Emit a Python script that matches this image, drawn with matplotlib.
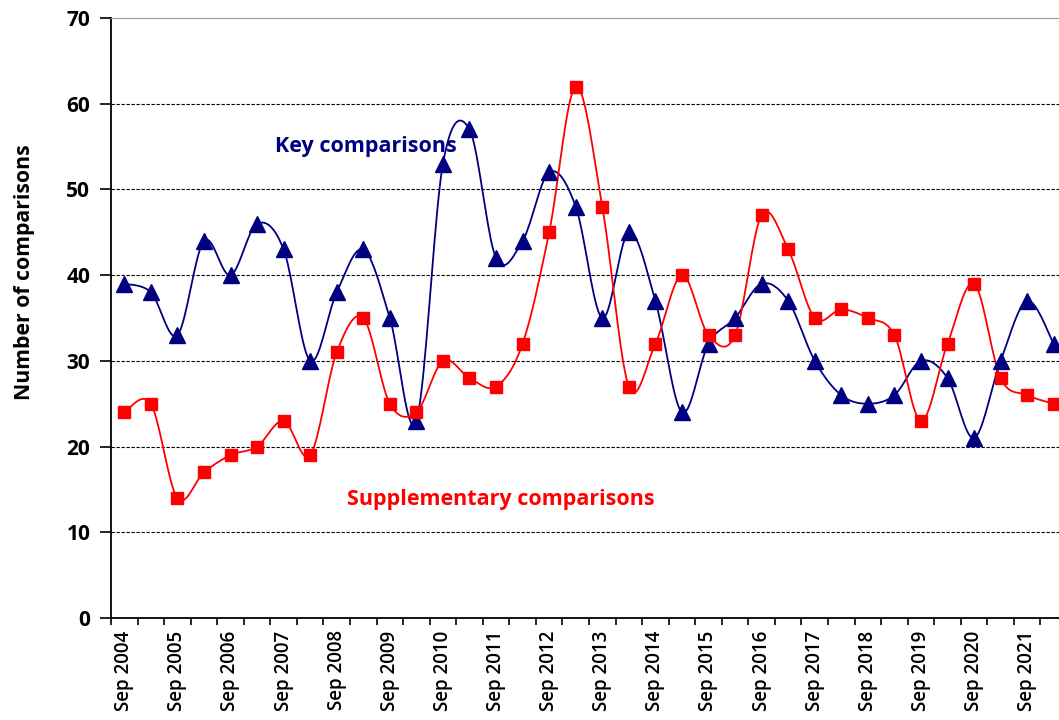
import matplotlib
matplotlib.use('Agg')
import matplotlib.pyplot as plt
import numpy as np

plt.rcParams['font.family'] = ['Open Sans', 'DejaVu Sans']

# half-yearly meetings, Sep 2004 .. Mar 2022
years = list(range(2004, 2022))
labels = []
for y in years:
    labels.append('Sep %d' % y)
    labels.append('')
key = [39, 38, 33, 44, 40, 46, 43, 30, 38, 43, 35, 23, 53, 57, 42, 44, 52, 48,
       35, 45, 37, 24, 32, 35, 39, 37, 30, 26, 25, 26, 30, 28, 21, 30, 37, 32]
supp = [24, 25, 14, 17, 19, 20, 23, 19, 31, 35, 25, 24, 30, 28, 27, 32, 45, 62,
        48, 27, 32, 40, 33, 33, 47, 43, 35, 36, 35, 33, 23, 32, 39, 28, 26, 25]


def smooth(y, n=20):
    # excel-like smoothed line: bezier through points, control pts from neighbours
    y = np.asarray(y, float)
    x = np.arange(len(y), dtype=float)
    xs, ys = [], []
    for i in range(len(y) - 1):
        p0 = np.array([x[max(i - 1, 0)], y[max(i - 1, 0)]])
        p1 = np.array([x[i], y[i]])
        p2 = np.array([x[i + 1], y[i + 1]])
        p3 = np.array([x[min(i + 2, len(y) - 1)], y[min(i + 2, len(y) - 1)]])
        c1 = p1 + (p2 - p0) / 6.0
        c2 = p2 - (p3 - p1) / 6.0
        t = np.linspace(0, 1, n)[:, None]
        pts = (1 - t)**3 * p1 + 3 * (1 - t)**2 * t * c1 + 3 * (1 - t) * t**2 * c2 + t**3 * p2
        xs.extend(pts[:, 0]); ys.extend(pts[:, 1])
    return xs, ys


fig = plt.figure(figsize=(10.59, 7.2), dpi=100)
ax = fig.add_axes([111/1059, 102/720, 956/1059, 600/720])

idx = np.arange(len(key))
for data, col, mk, ms in [(key, '#000080', '^', 11), (supp, '#ff0000', 's', 8)]:
    sx, sy = smooth(data)
    ax.plot(sx, sy, color=col, lw=1.3, zorder=3)
    ax.plot(idx, data, ls='none', marker=mk, ms=ms, color=col, zorder=4, clip_on=False)

ax.set_xlim(-0.5, len(key) - 0.5)
ax.set_ylim(0, 70)
ax.set_yticks(range(0, 71, 10))
for v in range(10, 70, 10):
    ax.axhline(v, color='black', lw=0.8, ls=(0, (3, 1.5)), zorder=1)

ax.set_xticks(np.arange(-0.5, len(key), 1.0))
ax.set_xticklabels([])
ax.set_xticks(idx, minor=True)
ax.set_xticklabels(labels, minor=True, rotation=90, fontsize=13.5, fontweight='semibold')
ax.tick_params(axis='x', which='major', direction='out', length=5, width=1.2)
ax.tick_params(axis='x', which='minor', length=0, pad=9)
ax.tick_params(axis='y', direction='out', length=8, width=1.2, labelsize=15, pad=7)
for t in ax.get_yticklabels():
    t.set_fontweight('bold')

ax.spines['left'].set_linewidth(1.3)
ax.spines['bottom'].set_linewidth(1.3)
ax.spines['top'].set_color('#999999')
ax.spines['right'].set_visible(False)

ax.set_ylabel('Number of comparisons', fontsize=15.3, fontweight='bold')
ax.yaxis.set_label_coords(-0.080, 0.577)

ax.text(5.69, 55, 'Key comparisons', color='#000080', fontsize=15.5,
        fontweight='bold', ha='left', va='center')
ax.text(8.4, 13.8, 'Supplementary comparisons', color='#ff0000', fontsize=15.5,
        fontweight='bold', ha='left', va='center')

fig.savefig('out.png', dpi=100)
